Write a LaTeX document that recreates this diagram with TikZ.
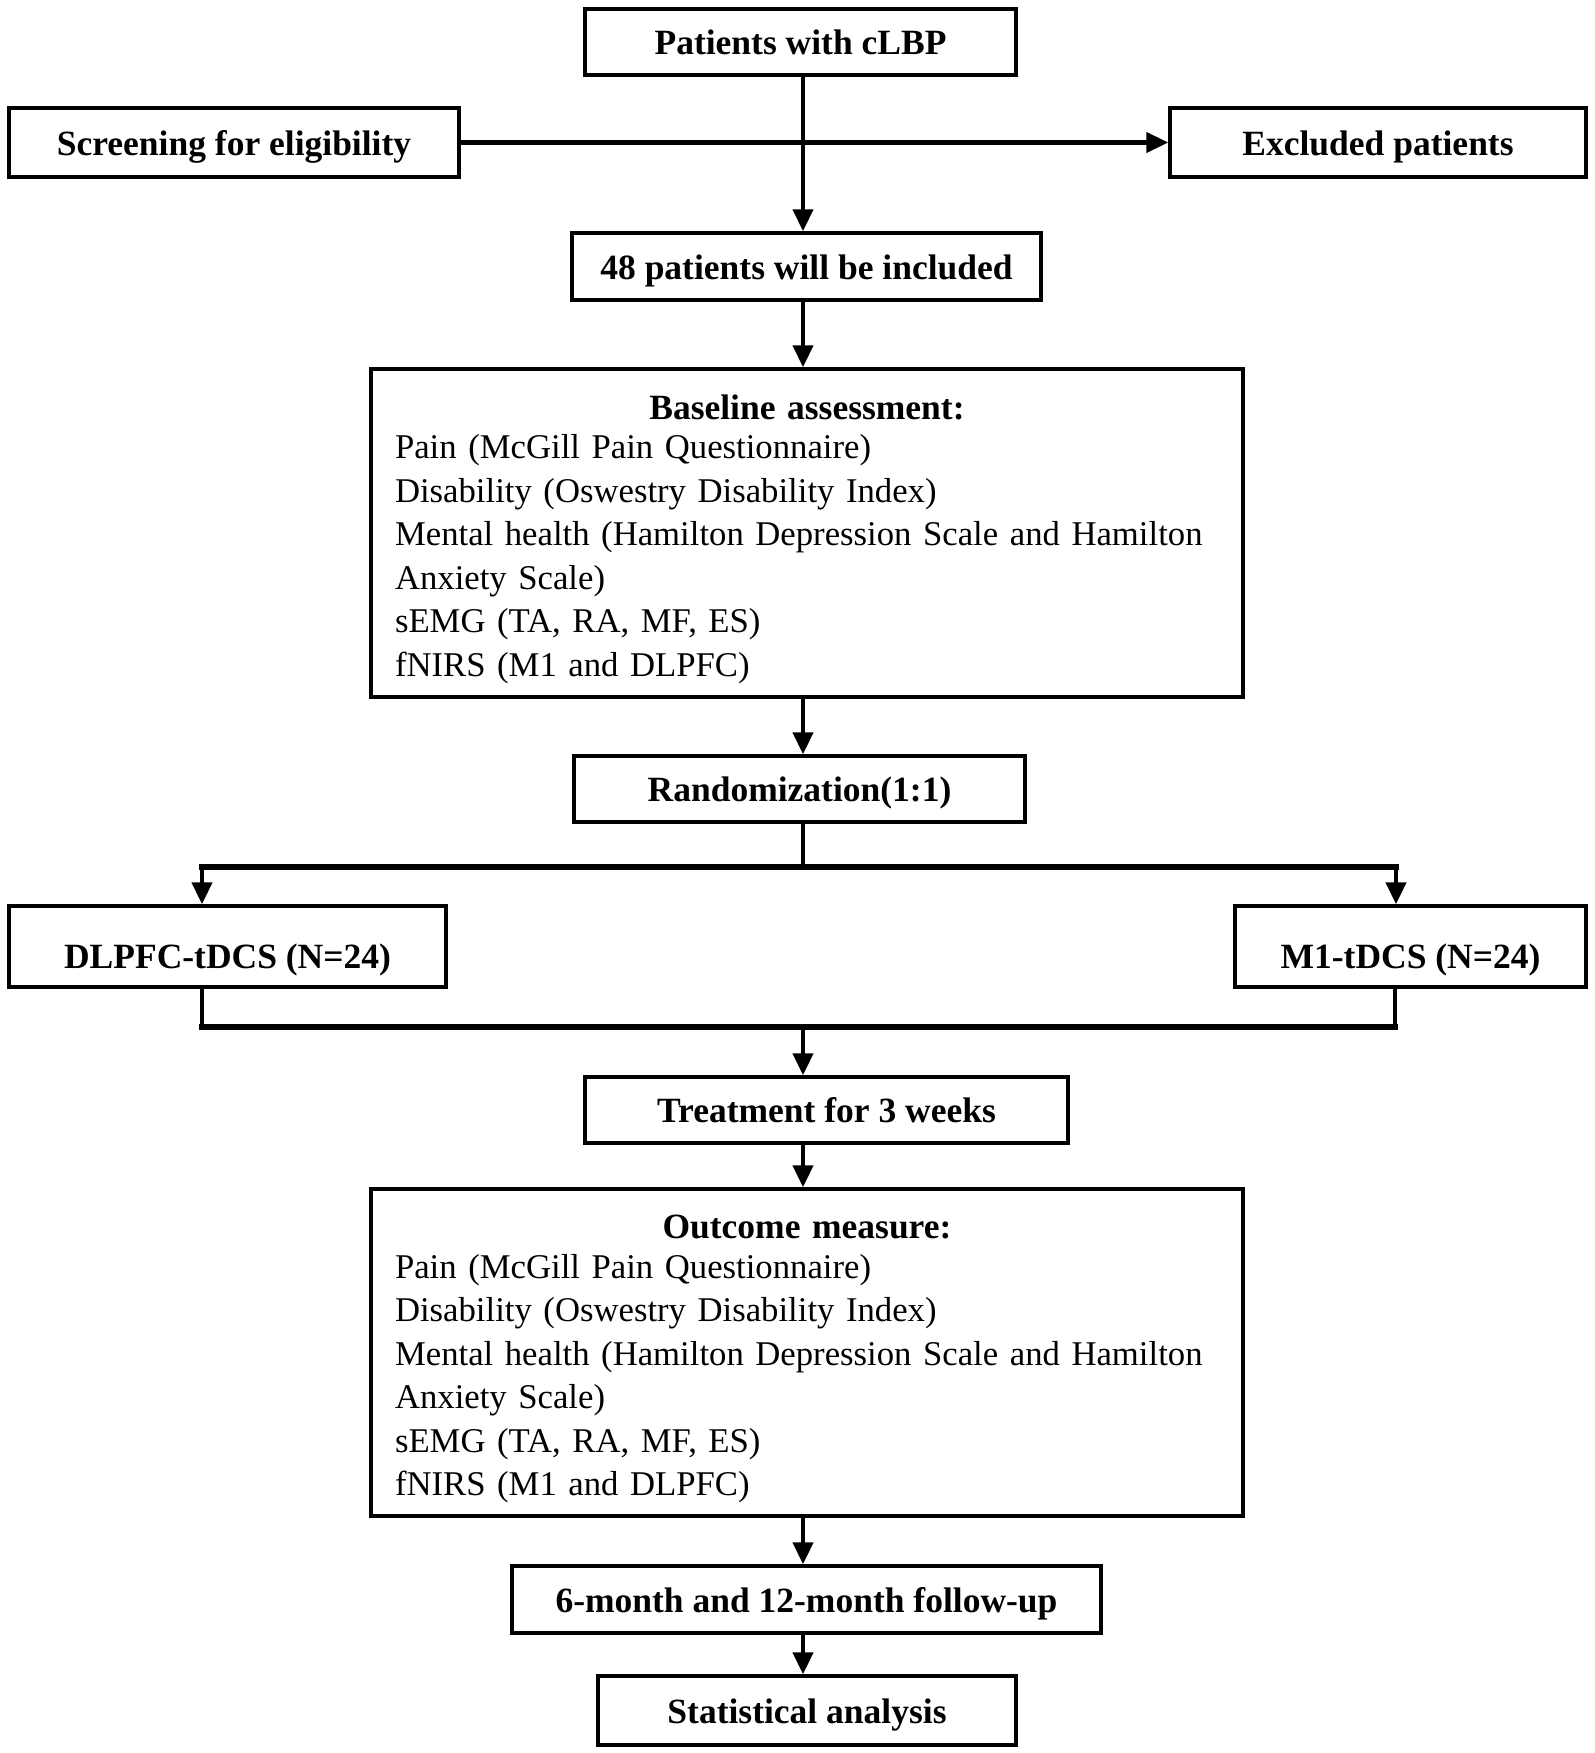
\documentclass[tikz,border=0pt]{standalone}
\usepackage{fontspec}
\setmainfont{Liberation Serif}
\usetikzlibrary{arrows.meta,calc}
\begin{document}
\begin{tikzpicture}[x=1pt,y=-1pt,
  box/.style={draw,line width=3.5pt,inner sep=0pt,font=\fontsize{35.5}{43}\selectfont\bfseries,align=center,text height=32pt,text depth=7pt},
  tallbox/.style={box,text height=50pt},
  bigbox/.style={draw,line width=3.5pt,inner xsep=24pt,inner ysep=0pt,font=\fontsize{34.7}{43.5}\selectfont,align=left,text width=824pt,minimum width=872pt},
  conn/.style={line width=4.5pt},
  bar/.style={line width=6.5pt,line cap=rect},
  arr/.style={line width=4.5pt,-{Triangle[length=22pt,width=20pt]}}]
\useasboundingbox[fill=white] (0,0) rectangle (1595,1753);

\node[box,minimum width=431pt,minimum height=66pt] (clbp) at (800.5,42) {Patients with cLBP};
\node[box,minimum width=450pt,minimum height=69pt] (scr) at (234,142.5) {Screening for eligibility};
\node[box,minimum width=416pt,minimum height=69pt] (exc) at (1378,142.5) {Excluded patients};
\node[box,minimum width=469pt,minimum height=67pt] (n48) at (806.5,266.5) {48 patients will be included};
\node[bigbox,minimum height=328pt] (base) at (807,533) {\rule{0pt}{37pt}\makebox[824pt][c]{\fontsize{35.5}{43.5}\selectfont\bfseries Baseline assessment:}\\[-4pt]
Pain (McGill Pain Questionnaire)\\
Disability (Oswestry Disability Index)\\
\mbox{Mental health (Hamilton Depression Scale and Hamilton}\\
Anxiety Scale)\\
sEMG (TA, RA, MF, ES)\\
fNIRS (M1 and DLPFC)};
\node[box,minimum width=451pt,minimum height=66pt] (rand) at (799.5,789) {Randomization(1:1)};
\node[tallbox,minimum width=437pt,minimum height=81pt] (dl) at (227.5,946.5) {DLPFC-tDCS (N=24)};
\node[tallbox,minimum width=351pt,minimum height=81pt] (m1) at (1410.5,946.5) {M1-tDCS (N=24)};
\node[box,minimum width=483pt,minimum height=66pt] (treat) at (826.5,1110) {Treatment for 3 weeks};
\node[bigbox,minimum height=327pt] (out) at (807,1352.5) {\rule{0pt}{37pt}\makebox[824pt][c]{\fontsize{35.5}{43.5}\selectfont\bfseries Outcome measure:}\\[-4pt]
Pain (McGill Pain Questionnaire)\\
Disability (Oswestry Disability Index)\\
\mbox{Mental health (Hamilton Depression Scale and Hamilton}\\
Anxiety Scale)\\
sEMG (TA, RA, MF, ES)\\
fNIRS (M1 and DLPFC)};
\node[box,minimum width=589pt,minimum height=67pt] (fu) at (806.5,1599.5) {6-month and 12-month follow-up};
\node[box,minimum width=418pt,minimum height=69pt] (stat) at (807,1710.5) {Statistical analysis};

\coordinate (trunk) at (803,0);
\coordinate (splitL) at (202,867);
\coordinate (splitR) at (1396,867);
\coordinate (mergeL) at (202,1027);
\coordinate (mergeR) at (1395,1027);

\draw[arr] (scr.east) -- (exc.west);
\draw[arr] (clbp.south -| trunk) -- (n48.north -| trunk);
\draw[arr] (n48.south -| trunk) -- (base.north -| trunk);
\draw[arr] (base.south -| trunk) -- (rand.north -| trunk);
\draw[conn] (rand.south -| trunk) -- (trunk |- splitL);
\draw[bar] (splitL) -- (splitR);
\draw[arr] (splitL) -- (dl.north -| splitL);
\draw[arr] (splitR) -- (m1.north -| splitR);
\draw[conn] (dl.south -| mergeL) -- (mergeL);
\draw[conn] (m1.south -| mergeR) -- (mergeR);
\draw[bar] (mergeL) -- (mergeR);
\draw[arr] (trunk |- mergeL) -- (treat.north -| trunk);
\draw[arr] (treat.south -| trunk) -- (out.north -| trunk);
\draw[arr] (out.south -| trunk) -- (fu.north -| trunk);
\draw[arr] (fu.south -| trunk) -- (stat.north -| trunk);
\end{tikzpicture}
\end{document}
